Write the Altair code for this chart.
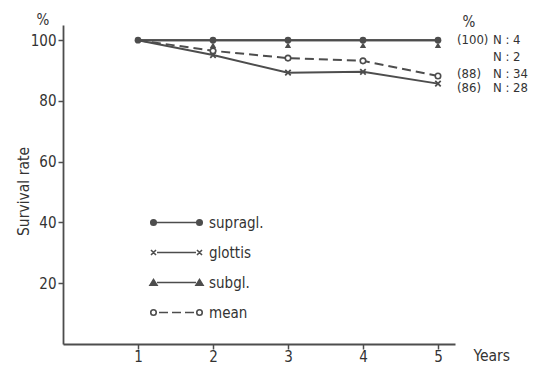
import altair as alt
import pandas as pd

years = [1, 2, 3, 4, 5]
series_names = ["supragl.", "glottis", "subgl.", "mean"]
supragl = [100, 100, 100, 100, 100]
glottis = [100, 95.1, 89.3, 89.6, 85.7]
subgl = [100, 100, 100, 100, 100]
mean = [100, 96.5, 94.1, 93.2, 88.2]

end_pct = ["(100)", "(86)", "", "(88)"]
end_n = ["N : 4", "N : 28", "N : 2", "N : 34"]

GREY = "#4d4d4d"
FONT = "'DejaVu Sans Condensed', 'Liberation Sans Narrow', Roboto, sans-serif"

rows = []
for name, vals in zip(series_names, [supragl, glottis, subgl, mean]):
    for yr, v in zip(years, vals):
        rows.append({"year": yr, "series": name, "value": v})
df = pd.DataFrame(rows)

ends = pd.DataFrame({
    "series": series_names,
    "year": [years[-1]] * 4,
    "value": [supragl[-1], glottis[-1], subgl[-1], mean[-1]],
    "pct": end_pct,
    "n": end_n,
})

xscale = alt.Scale(domain=[0, 5.227], nice=False)
yscale = alt.Scale(domain=[0, 105], nice=False)

X = alt.X("year:Q", scale=xscale,
          axis=alt.Axis(values=[1, 2, 3, 4, 5], title="Years", grid=False,
                        titleAlign="left", titleAnchor="start", titleX=410, titleY=16,
                        titleBaseline="alphabetic", titleFontWeight="normal"))
Y = alt.Y("value:Q", scale=yscale,
          axis=alt.Axis(values=[20, 40, 60, 80, 100], title="Survival rate", grid=False,
                        titleFontWeight="normal", titleX=-32, titleY=166))

base = alt.Chart(df)

solid = base.transform_filter(alt.datum.series != "mean").mark_line(
    color=GREY, strokeWidth=2).encode(x=X, y=Y, detail="series:N")
dashed = base.transform_filter(alt.datum.series == "mean").mark_line(
    color=GREY, strokeWidth=2, strokeDash=[9, 5]).encode(x=X, y=Y)

pt_sup = base.transform_filter(alt.datum.series == "supragl.").mark_point(
    shape="circle", filled=True, color=GREY, size=45, opacity=1).encode(x=X, y=Y)
pt_glo = base.transform_filter((alt.datum.series == "glottis") & (alt.datum.year > 1)).mark_point(
    shape="M-1,-1L1,1M-1,1L1,-1", filled=False, color=GREY, size=30, strokeWidth=1.8,
    opacity=1).encode(x=X, y=Y)
pt_sub = base.transform_filter((alt.datum.series == "subgl.") & (alt.datum.year > 1)).mark_point(
    shape="triangle-up", filled=True, color=GREY, size=40, yOffset=5, opacity=1).encode(x=X, y=Y)
pt_mean = base.transform_filter((alt.datum.series == "mean") & (alt.datum.year > 1)).mark_point(
    shape="circle", filled=False, color=GREY, fill="white", size=30, strokeWidth=1.6,
    opacity=1).encode(x=X, y=Y)

# legend symbols (unit = 5px)
def circ(cx, r=0.55):
    return f"M{cx - r},0A{r},{r} 0 1,1 {cx + r},0A{r},{r} 0 1,1 {cx - r},0Z"

def cross(cx, r=0.5):
    return f"M{cx - r},{-r}L{cx + r},{r}M{cx - r},{r}L{cx + r},{-r}"

def tri(cx):
    return f"M{cx - 0.7},0.55L{cx + 0.7},0.55L{cx},-0.6Z"

E = 9.2
path_sup = circ(0) + circ(E) + f"M0.6,0L{E - 0.6},0"
path_glo = cross(0) + cross(E) + f"M0.7,0L{E - 0.7},0"
path_sub = tri(0) + tri(E) + f"M0.7,0L{E - 0.7},0"
path_mean = circ(0) + circ(E) + "M1.1,0L2.9,0M3.7,0L5.5,0M6.3,0L8.1,0"

leg = alt.Legend(title=None, orient="none", legendX=83, legendY=190,
                 symbolSize=100, symbolStrokeWidth=1.6, symbolStrokeColor=GREY,
                 labelOffset=48, labelFont=FONT, labelFontSize=15, labelColor="#333",
                 rowPadding=14, symbolOffset=0)
legend_layer = base.transform_filter("false").mark_point(
    filled=False, color=GREY, strokeWidth=1.6, opacity=1).encode(
    x=X, y=Y,
    shape=alt.Shape("series:N", scale=alt.Scale(domain=series_names,
                    range=[path_sup, path_glo, path_sub, path_mean]), legend=leg),
    fill=alt.Fill("series:N", scale=alt.Scale(domain=series_names,
                  range=[GREY, GREY, GREY, "white"]), legend=leg),
    stroke=alt.Stroke("series:N", scale=alt.Scale(domain=series_names,
                      range=[GREY, GREY, GREY, GREY]), legend=leg),
)

dys = {"supragl.": 0, "glottis": 4.5, "subgl.": 17, "mean": -2}
texts = []
for s in series_names:
    e = alt.Chart(ends).transform_filter(alt.datum.series == s)
    texts.append(e.mark_text(align="left", baseline="middle", dx=19, dy=dys[s],
                             font=FONT, fontSize=13, color="#333").encode(x=X, y=Y, text="pct:N"))
    texts.append(e.mark_text(align="left", baseline="middle", dx=55, dy=dys[s],
                             font=FONT, fontSize=13, color="#333").encode(x=X, y=Y, text="n:N"))

pct_right = alt.Chart(ends).transform_filter(alt.datum.series == "supragl.").mark_text(
    align="center", baseline="middle", dx=31, dy=-18, font=FONT, fontSize=15,
    color="#333").encode(x=X, y=Y, text=alt.value("%"))
pct_left = alt.Chart(ends).transform_filter(alt.datum.series == "supragl.").mark_text(
    align="center", baseline="middle", font=FONT, fontSize=15, color="#333").encode(
    x=alt.value(-20), y=alt.value(-5), text=alt.value("%"))

chart = alt.layer(solid, dashed, pt_sup, pt_glo, pt_sub, pt_mean, legend_layer,
                  *texts, pct_right, pct_left).properties(
    width=392, height=319, autosize=alt.AutoSizeParams(type="none"),
    padding={"left": 55, "top": 17, "right": 74, "bottom": 21},
).configure_view(stroke=None).configure_axis(
    domainColor=GREY, domainWidth=1.8, tickColor=GREY, tickWidth=1.5, tickSize=5,
    labelFont=FONT, labelFontSize=15, labelColor="#333", labelPadding=0,
    titleFont=FONT, titleFontSize=15.5, titleColor="#333",
).configure_axisY(labelPadding=2)

chart.save("out.html", embed_options={"renderer": "svg", "actions": False})
